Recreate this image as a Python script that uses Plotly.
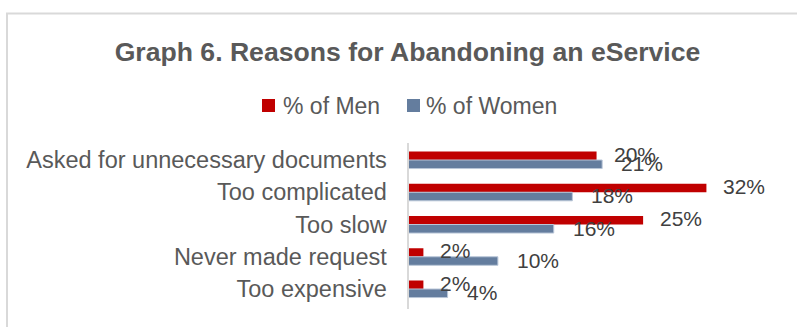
import plotly.graph_objects as go

categories = ["Asked for unnecessary documents", "Too complicated", "Too slow",
              "Never made request", "Too expensive"]
men = [20.2, 32.0, 25.2, 1.6, 1.6]
women = [20.8, 17.6, 15.6, 9.6, 4.2]
series_names = ["% of Men", "% of Women"]
title_text = "Graph 6. Reasons for Abandoning an eService"

W, H = 797, 327
RED = "#C00000"
BLUE = "#647D9E"
COLORS = [RED, BLUE]
FONT = "Liberation Sans, Arial, sans-serif"

fig = go.Figure()
fig.add_trace(go.Bar(y=categories, x=men, name=series_names[0], orientation="h",
                     marker=dict(color=RED, line=dict(width=0))))
fig.add_trace(go.Bar(y=categories, x=women, name=series_names[1], orientation="h",
                     marker=dict(color=BLUE, line=dict(color="#b9c6d8", width=1))))

annotations = []
for vals, ys, xs in ((men, 6, 15), (women, -3.5, 17)):
    for c, v in zip(categories, vals):
        annotations.append(dict(x=v, y=c, xref="x", yref="y", text=f"{v:.0f}%",
                                showarrow=False, xanchor="left", yanchor="middle",
                                xshift=xs, yshift=ys,
                                font=dict(family=FONT, size=21, color="#404040")))

# custom legend (square + text, Excel style)
shapes = [dict(type="rect", xref="paper", yref="paper", x0=7 / W, x1=1.05,
               y0=-0.1, y1=1 - 13.5 / H, line=dict(color="#d9d9d9", width=2),
               layer="below")]
leg_sq_x = [262, 407]
leg_txt_x = [281, 424]
for name, col, sx, tx in zip(series_names, COLORS, leg_sq_x, leg_txt_x):
    shapes.append(dict(type="rect", xref="paper", yref="paper",
                       x0=sx / W, x1=(sx + 13) / W, y0=1 - 112 / H, y1=1 - 99 / H,
                       fillcolor=col, line=dict(width=0)))
    annotations.append(dict(x=tx / W, y=1 - 106 / H, xref="paper", yref="paper",
                            text=name, showarrow=False, xanchor="left",
                            yanchor="middle",
                            font=dict(family=FONT, size=23, color="#595959")))

x0 = 408.5 / W
px_per = 9.31
fig.update_layout(
    width=W, height=H,
    margin=dict(l=0, r=0, t=0, b=0),
    paper_bgcolor="white", plot_bgcolor="white",
    barmode="group", bargap=0.47, bargroupgap=0,
    title=dict(text=f"<b>{title_text}</b>", x=407.5 / W, xanchor="center",
               y=1 - 52 / H, yanchor="middle", yref="container",
               font=dict(family=FONT, size=26.6, color="#595959")),
    showlegend=False,
    xaxis=dict(domain=[x0, (408.5 + 40 * px_per) / W], range=[0, 40],
               showgrid=False, zeroline=False, showticklabels=False, showline=False),
    yaxis=dict(domain=[1 - 308.5 / H, 1 - 143 / H], autorange="reversed",
               showgrid=False, zeroline=False, showline=True, linecolor="#d9d9d9",
               linewidth=2, ticks="", ticklabelstandoff=15,
               tickfont=dict(family=FONT, size=23.5, color="#595959")),
    annotations=annotations,
    shapes=shapes,
)
fig.write_html("out.html")
